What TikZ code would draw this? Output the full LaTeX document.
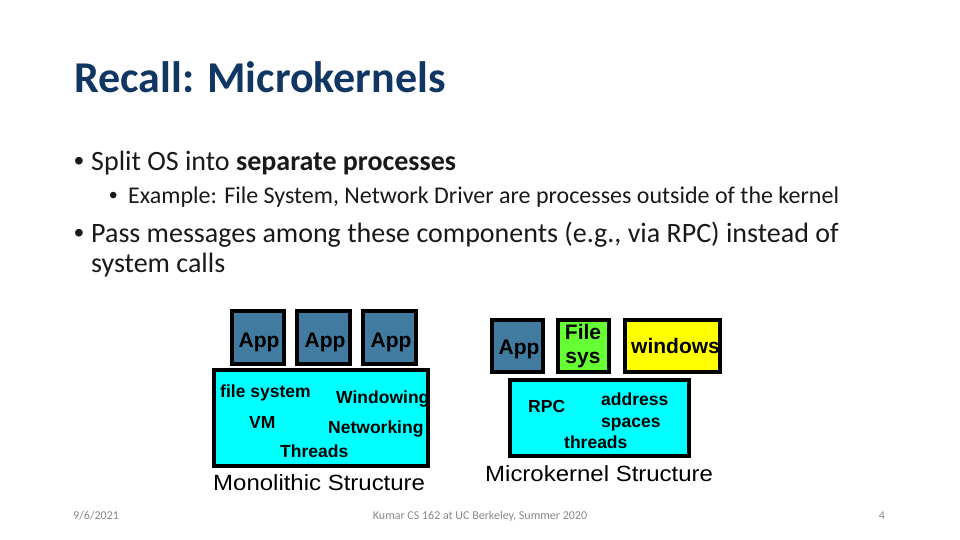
\documentclass[tikz,border=0pt]{standalone}
\usepackage{fontspec}
\setmainfont{Carlito}
\newfontfamily\arialf{Liberation Sans}
\newfontfamily\arialwide[FakeStretch=1.09]{Liberation Sans}
\definecolor{titleblue}{RGB}{16,55,99}
\definecolor{bodytext}{RGB}{25,25,25}
\definecolor{footgray}{RGB}{137,137,137}
\definecolor{appblue}{RGB}{66,123,160}
\definecolor{kernelcyan}{RGB}{0,255,255}
\definecolor{fsgreen}{RGB}{102,255,51}
\definecolor{winyellow}{RGB}{255,255,0}
\begin{document}
\begin{tikzpicture}[x=1pt,y=-1pt,
  txt/.style={inner sep=0pt, anchor=base west},
  boxstyle/.style={draw=black, line width=3.5pt, inner sep=0pt},
  appbox/.style={boxstyle, fill=appblue},
  kbox/.style={boxstyle, fill=kernelcyan},
  boxlabel/.style={inner sep=0pt, anchor=base, font=\arialf\bfseries\fontsize{21}{24}\selectfont, text=black},
  klabel/.style={txt, font=\arialf\bfseries\fontsize{17.5}{20}\selectfont, text=black},
  caption/.style={txt, font=\arialwide\fontsize{22}{26}\selectfont, text=black},
  bullet1/.style={txt, font=\fontsize{28}{32}\selectfont, text=bodytext},
  bullet2/.style={txt, font=\fontsize{24}{28}\selectfont, text=bodytext},
  dot1/.style={txt, font=\arialf\fontsize{28}{32}\selectfont, text=bodytext},
  dot2/.style={txt, font=\arialf\fontsize{24}{28}\selectfont, text=bodytext},
  foot/.style={inner sep=0pt, anchor=base, font=\fontsize{12}{14}\selectfont, text=footgray}
]
\useasboundingbox (0,0) rectangle (960,540);
\fill[white] (0,0) rectangle (960,540);

% title
\node[txt, font=\bfseries\fontsize{44}{50}\selectfont, text=titleblue] (title) at (74,93) {Recall: Microkernels};

% bullets
\node[dot1] (b1dot) at (74,171) {•};
\node[bullet1] (b1) at (91,171) {Split OS into \textbf{separate processes}};
\node[dot2] (b2dot) at (109,203) {•};
\node[bullet2] (b2) at (128,203) {Example: File System, Network Driver are processes outside of the kernel};
\node[dot1] (b3dot) at (74,242) {•};
\node[bullet1] (b3) at (91,242) {Pass messages among these components (e.g., via RPC) instead of};
\node[bullet1] (b3b) at (91,272) {system calls};

% monolithic structure
\node[appbox, minimum width=52pt, minimum height=53pt] (ma1) at (258,337.5) {};
\node[appbox, minimum width=53pt, minimum height=53pt] (ma2) at (323.5,337.5) {};
\node[appbox, minimum width=53pt, minimum height=53pt] (ma3) at (389.5,337.5) {};
\node[boxlabel] (ma1t) at (259,347) {App};
\node[boxlabel] (ma2t) at (325,347) {App};
\node[boxlabel] (ma3t) at (391,347) {App};
\node[kbox, minimum width=214pt, minimum height=96pt] (mk) at (321,418) {};
\node[klabel] (mfs) at (220,397) {file system};
\node[klabel] (mwin) at (336,403) {Windowing};
\node[klabel] (mvm) at (249,428) {VM};
\node[klabel] (mnet) at (328,433) {Networking};
\node[klabel] (mthr) at (280,457) {Threads};
\node[caption] (mcap) at (213,490) {Monolithic Structure};

% microkernel structure
\node[appbox, minimum width=51pt, minimum height=52pt] (ua) at (517.5,346) {};
\node[boxstyle, fill=fsgreen, minimum width=51pt, minimum height=52pt] (ufs) at (583.5,346) {};
\node[boxstyle, fill=winyellow, minimum width=95pt, minimum height=52pt] (uwin) at (672.5,346) {};
\node[boxlabel] (uat) at (519,354) {App};
\node[boxlabel] (ufst1) at (583,339) {File};
\node[boxlabel] (ufst2) at (583,363) {sys};
\node[boxlabel, anchor=base west] (uwint) at (631,353) {windows};
\node[kbox, minimum width=179pt, minimum height=76pt] (uk) at (599.5,418) {};
\node[klabel] (urpc) at (528,412) {RPC};
\node[klabel] (uaddr) at (601,405) {address};
\node[klabel] (uspc) at (601,427) {spaces};
\node[klabel] (uthr) at (564,448) {threads};
\node[caption] (ucap) at (485,481) {Microkernel Structure};

% footer
\node[foot, anchor=base west] (fdate) at (73,519) {9/6/2021};
\node[foot] (fmid) at (480,519) {Kumar CS 162 at UC Berkeley, Summer 2020};
\node[foot] (fnum) at (882,519) {4};
\end{tikzpicture}
\end{document}
